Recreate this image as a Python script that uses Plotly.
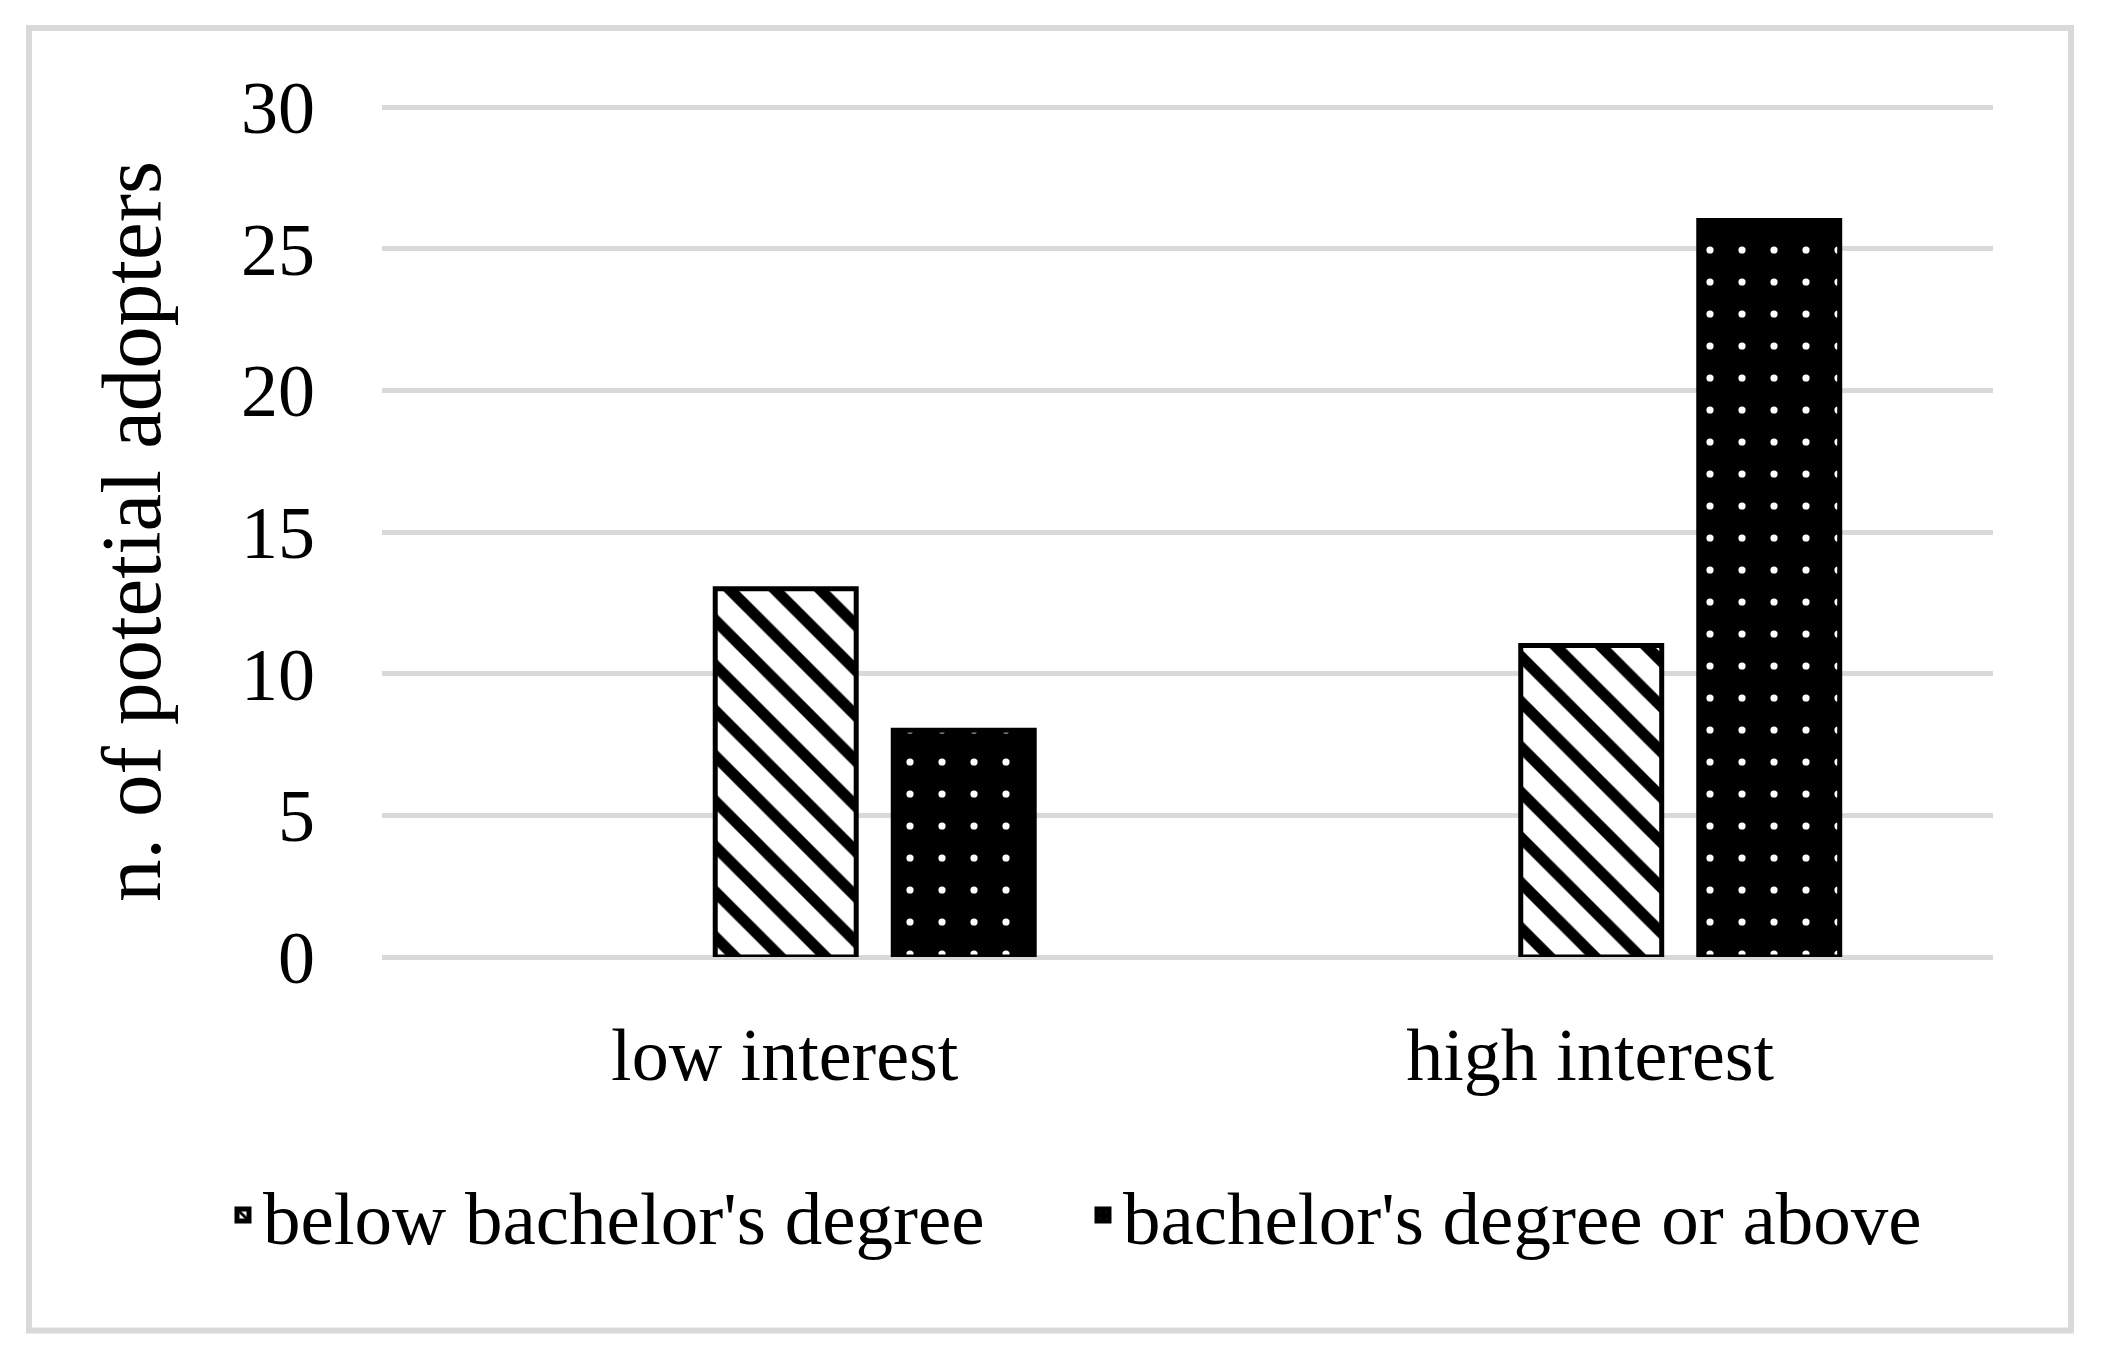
import plotly.graph_objects as go

categories = ["low interest", "high interest"]
below_bachelor = [13, 11]
bachelor_or_above = [8, 26]
y_ticks = [0, 5, 10, 15, 20, 25, 30]

FONT = "Liberation Serif"
GRID = "#d9d9d9"


def create_figure():
    fig = go.Figure()
    fig.update_layout(
        width=2106, height=1368,
        paper_bgcolor="white", plot_bgcolor="white",
        font=dict(family=FONT, size=74, color="black"),
        margin=dict(l=382, r=113, t=106, b=411, autoexpand=False),
        showlegend=True,
        # placed below and left of the plot area so the legend may use the full width
        legend=dict(orientation="h", x=-0.0987, y=-0.3035,
                    xanchor="left", yanchor="middle",
                    font=dict(family=FONT, size=75, color="black"),
                    itemwidth=30, tracegroupgap=0, entrywidth=815),
    )
    return fig


def add_bars(fig):
    # offsets mimic the excel layout where an empty third series keeps a slot free
    fig.add_trace(go.Bar(
        x=categories, y=below_bachelor, name="below bachelor's degree",
        width=0.175, offset=-0.0863,
        marker=dict(color="white", line=dict(color="black", width=5),
                    pattern=dict(shape="\\", fgcolor="black", bgcolor="white",
                                 size=32, solidity=0.35, fillmode="replace")),
    ))
    fig.add_trace(go.Bar(
        x=categories, y=bachelor_or_above, name="bachelor's degree or above",
        width=0.175, offset=0.1347,
        marker=dict(color="black", line=dict(color="black", width=5),
                    pattern=dict(shape=".", fgcolor="white", bgcolor="black",
                                 size=32, solidity=0.04, fillmode="replace")),
    ))


def style_axes(fig):
    fig.update_xaxes(
        type="category", range=[-0.5, 1.5],
        showgrid=False, showline=False, ticks="", zeroline=False,
        tickfont=dict(family=FONT, size=74, color="black"),
        ticklabelstandoff=48,
    )
    fig.update_yaxes(
        range=[0, 30.04], tickvals=y_ticks, ticktext=[str(v) for v in y_ticks],
        showgrid=True, gridcolor=GRID, gridwidth=5,
        zeroline=True, zerolinecolor=GRID, zerolinewidth=5,
        showline=False, ticks="",
        tickfont=dict(family=FONT, size=74, color="black"),
        ticklabelstandoff=66,
        title=dict(text="n. of potetial adopters", standoff=52,
                   font=dict(family=FONT, size=85, color="black")),
    )


def add_border(fig):
    fig.add_shape(type="rect", xref="paper", yref="paper",
                  x0=-0.2191, x1=1.0484, y0=-0.4388, y1=1.0918,
                  line=dict(color=GRID, width=6), fillcolor="rgba(0,0,0,0)",
                  layer="below")


fig = create_figure()
add_bars(fig)
style_axes(fig)
add_border(fig)

fig.write_html("out.html", config={"displayModeBar": False},
               post_script="document.body.style.margin='0';")
